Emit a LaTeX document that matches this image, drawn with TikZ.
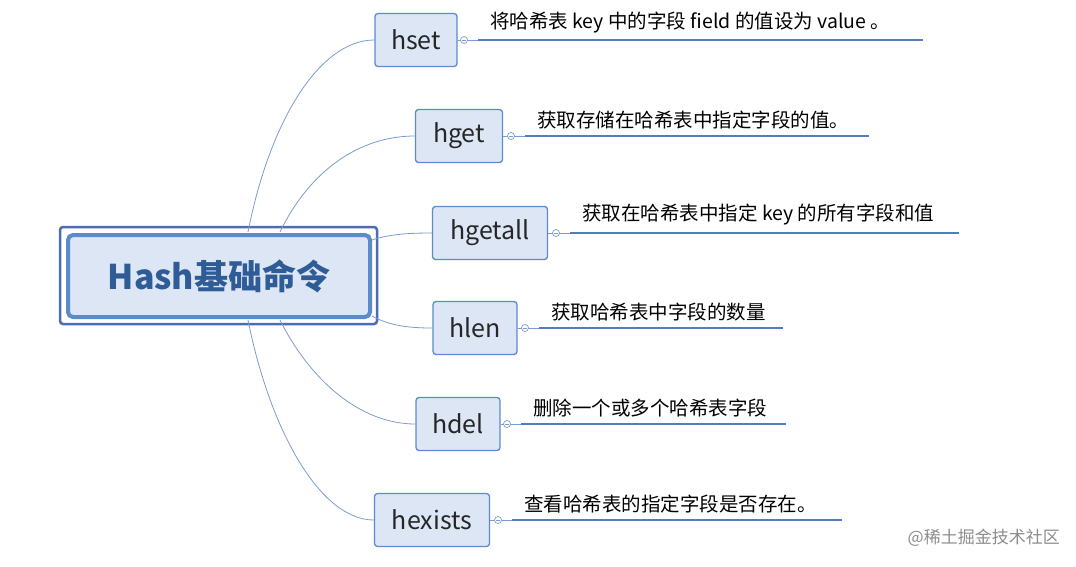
\documentclass[tikz,border=0pt]{standalone}
\usepackage{fontspec}
\setmainfont{Noto Sans CJK SC}
\definecolor{fillb}{HTML}{DCE6F4}
\definecolor{edgeb}{HTML}{5B8BCB}
\definecolor{outerb}{HTML}{4A6DB3}
\definecolor{txtb}{HTML}{2F5C96}
\definecolor{linkb}{HTML}{7A9CCF}
\definecolor{lineb}{HTML}{4F7EC0}
\begin{document}
\begin{tikzpicture}[x=1pt,y=-1pt,
  child/.style={draw=edgeb,line width=1.3pt,fill=fillb,rounded corners=3pt,inner sep=0pt,font=\fontsize{25}{25}\selectfont,text=black!85},
  desc/.style={anchor=south west,inner sep=0pt,font=\fontsize{19.5}{19.5}\selectfont},
  link/.style={draw=linkb,line width=0.8pt},
  uline/.style={draw=lineb,line width=2pt},
  knob/.style={circle,draw=linkb,fill=white,line width=0.7pt,minimum size=7pt,inner sep=0pt}]
\useasboundingbox (0,0) rectangle (1076,566);
\node[draw=outerb,line width=2.5pt,rounded corners=3pt,minimum width=317pt,minimum height=97pt] (outer) at (218.5,275.5) {};
\node[draw=edgeb,fill=fillb,line width=4pt,rounded corners=5pt,minimum width=302pt,minimum height=82pt,font=\bfseries\fontsize{34}{34}\selectfont,text=txtb] (root) at (219,276) {Hash基础命令};
\foreach \n/\t/\x/\y/\w/\cx/\lx in {
  a/hset/416/40/82/464/923,
  b/hget/459/136/87/511/869,
  c/hgetall/490/233/115/556/959,
  d/hlen/475/328/84/525/783,
  e/hdel/458/424/84/507/786,
  f/hexists/432/520/115/498/842}{
  \node[child,minimum width=\w pt,minimum height=53pt] (\n) at (\x,\y) {\t};
  \coordinate (\n s) at (\cx+14,\y);
  \coordinate (\n e) at (\lx,\y);
  \draw[uline] (\n s) -- (\n e);
  \draw[linkb,line width=0.7pt] (\n.east) -- (\n s);
  \node[knob] (\n k) at (\cx,\y) {};
  \draw[linkb,line width=0.7pt] ([xshift=-2pt]\n k.center) -- ([xshift=2pt]\n k.center);
}
\node[desc] (ta) at (490,33) {将哈希表 key 中的字段 field 的值设为 value 。};
\node[desc] (tb) at (537,129) {获取存储在哈希表中指定字段的值。};
\node[desc] (tc) at (582,225) {获取在哈希表中指定 key 的所有字段和值};
\node[desc] (td) at (551,321) {获取哈希表中字段的数量};
\node[desc] (te) at (533,417) {删除一个或多个哈希表字段};
\node[desc] (tf) at (524,513) {查看哈希表的指定字段是否存在。};
\coordinate (r1) at (248,232); \coordinate (r2) at (280,232);
\coordinate (r3) at (372,240); \coordinate (r4) at (372,316);
\coordinate (r5) at (280,320); \coordinate (r6) at (248,320);
\draw[link] (r1) .. controls (270,120) and (320,40) .. (a.west);
\draw[link] (r2) .. controls (310,170) and (360,136) .. (b.west);
\draw[link] (r3) .. controls (390,234) and (410,233) .. (c.west);
\draw[link] (r4) .. controls (390,326) and (410,328) .. (d.west);
\draw[link] (r5) .. controls (310,380) and (360,424) .. (e.west);
\draw[link] (r6) .. controls (270,430) and (320,520) .. (f.west);
\node[anchor=east,inner sep=0pt,text=black!45,font=\fontsize{17}{17}\selectfont] (wm) at (1060,538) {@稀土掘金技术社区};
\end{tikzpicture}
\end{document}
